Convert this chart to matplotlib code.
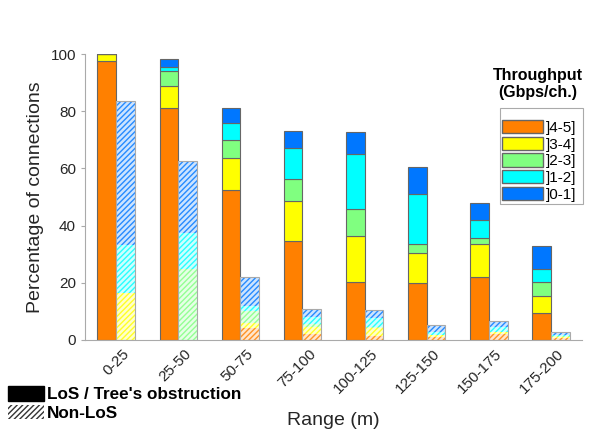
import numpy as np
import matplotlib
matplotlib.use("Agg")
import matplotlib.pyplot as plt
import matplotlib.transforms as mtransforms
from matplotlib.patches import Patch, Rectangle

plt.rcParams['font.family'] = ['Liberation Sans', 'DejaVu Sans']

ranges = ['0-25', '25-50', '50-75', '75-100', '100-125', '125-150', '150-175', '175-200']
classes = [']4-5]', ']3-4]', ']2-3]', ']1-2]', ']0-1]']
colors = ['#FF8000', '#FFFF00', '#80FF80', '#00FFFF', '#0077FF']

# LoS / tree obstruction, percent per throughput class
los_45 = [97.5, 81.1, 52.4, 34.7, 20.2, 19.8, 22.1, 9.3]
los_34 = [2.5, 7.7, 11.2, 13.8, 16.2, 10.5, 11.3, 6.2]
los_23 = [0.0, 5.1, 6.3, 7.9, 9.4, 3.4, 2.1, 4.7]
los_12 = [0.0, 1.7, 6.1, 10.7, 19.3, 17.3, 6.3, 4.6]
los_01 = [0.0, 2.7, 5.2, 6.1, 7.7, 9.4, 6.2, 7.9]

# Non-LoS
nlos_45 = [0.0, 0.0, 4.1, 2.0, 1.4, 1.2, 2.0, 0.7]
nlos_34 = [16.5, 0.0, 1.7, 2.5, 2.8, 0.5, 0.7, 0.4]
nlos_23 = [0.0, 24.8, 4.2, 1.0, 0.5, 0.0, 0.0, 0.2]
nlos_12 = [16.7, 12.5, 2.0, 2.7, 2.9, 1.2, 1.7, 0.5]
nlos_01 = [50.4, 25.3, 10.0, 2.8, 2.9, 2.2, 2.4, 0.9]

los = [los_45, los_34, los_23, los_12, los_01]
nlos = [nlos_45, nlos_34, nlos_23, nlos_12, nlos_01]

def lighten(c, f):
    rgb = np.array(matplotlib.colors.to_rgb(c))
    return tuple(rgb + (1 - rgb) * f)

fig = plt.figure(figsize=(5.89, 4.32), dpi=100)
ax = fig.add_axes([0.1443, 0.213, 0.844, 0.662])

x = np.arange(1, len(ranges) + 1)
w = 0.3
plt.rcParams['hatch.linewidth'] = 1.0

bottom = np.zeros(len(ranges))
for vals, c in zip(los, colors):
    ax.bar(x - w / 2, vals, w, bottom=bottom, color=c, edgecolor='#666666', linewidth=0.8)
    bottom += np.array(vals)

bottom = np.zeros(len(ranges))
for vals, c in zip(nlos, colors):
    ax.bar(x + w / 2, vals, w, bottom=bottom, facecolor=lighten(c, 0.8),
           edgecolor=lighten(c, 0.15), hatch='//////', linewidth=0)
    bottom += np.array(vals)
ax.bar(x + w / 2, bottom, w, fill=False, edgecolor='#AAAAAA', linewidth=0.8)

ax.set_xlim(0.5, 8.5)
ax.set_ylim(0, 100)
ax.set_yticks([0, 20, 40, 60, 80, 100])
ax.set_xticks(x)
ax.set_xticklabels(ranges, rotation=45, ha='right', va='top', rotation_mode='anchor')
ax.tick_params(axis='both', labelsize=11, colors='#AAAAAA', labelcolor='#262626', length=3)
ax.tick_params(axis='x', length=0, pad=5)
shift = mtransforms.ScaledTranslation(0.06, 0, fig.dpi_scale_trans)
for lab in ax.get_xticklabels():
    lab.set_transform(lab.get_transform() + shift)
for s in ['top', 'right']:
    ax.spines[s].set_visible(False)
for s in ['left', 'bottom']:
    ax.spines[s].set_color('#AAAAAA')
ax.set_ylabel('Percentage of connections', fontsize=14, color='#262626', labelpad=5)
ax.set_xlabel('Range (m)', fontsize=14, color='#262626', labelpad=11)

handles = [Patch(facecolor=c, edgecolor='#666666', label=l) for c, l in zip(colors, classes)]
leg = fig.legend(handles=handles, loc='upper left', bbox_to_anchor=(502 / 589, 1 - 120 / 432),
                 fontsize=11, handlelength=2.7, handleheight=0.95, labelspacing=0.12,
                 handletextpad=0.15, borderpad=0, borderaxespad=0, frameon=False)
fig.add_artist(Rectangle((500 / 589, 1 - 204 / 432), 83 / 589, 96 / 432,
                         transform=fig.transFigure, fill=False, edgecolor='#AAAAAA', lw=0.8))
fig.text(0.913, 0.806, 'Throughput\n(Gbps/ch.)', ha='center', va='center',
         fontsize=11.5, fontweight='bold', linespacing=1.15)

h2 = [Patch(facecolor='black', edgecolor='black', label='LoS / Tree\'s obstruction'),
      Patch(facecolor='white', edgecolor='#333333', hatch='//////', linewidth=0,
            label='Non-LoS')]
fig.legend(handles=h2, loc='lower left', bbox_to_anchor=(8 / 589, 11 / 432), frameon=False,
           prop={'weight': 'bold', 'size': 12.3}, handlelength=2.1, handleheight=0.9,
           labelspacing=0.15, handletextpad=0.2, borderpad=0, borderaxespad=0)

fig.savefig('out.png', dpi=100)
